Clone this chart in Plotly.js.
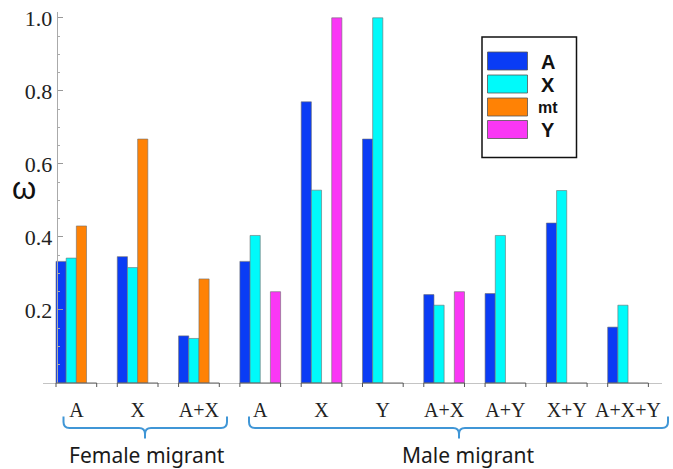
<!DOCTYPE html>
<html>
<head>
<meta charset="utf-8">
<script src="https://cdn.plot.ly/plotly-3.0.1.min.js"></script>
<style>html,body{margin:0;padding:0;background:#fff;}</style>
</head>
<body>
<div id="chart" style="width:673px;height:469px;"></div>
<script>
// ---- data ----
const categories = ['A', 'X', 'A+X', 'A', 'X', 'Y', 'A+X', 'A+Y', 'X+Y', 'A+X+Y'];
const seriesNames = ['A', 'X', 'mt', 'Y'];
const valA  = [0.333, 0.346, 0.129, 0.333, 0.770, 0.668, 0.242, 0.245, 0.438, 0.153];
const valX  = [0.342, 0.316, 0.122, 0.404, 0.528, 1.000, 0.213, 0.404, 0.527, 0.213];
const valMt = [0.430, 0.668, 0.285, null, null, null, null, null, null, null];
const valY  = [null, null, null, 0.250, 1.000, null, 0.250, null, null, null];
const yTickVals = [0.2, 0.4, 0.6, 0.8, 1.0];
const yTickText = ['0.2', '0.4', '0.6', '0.8', '1.0'];
const groupNames = ['Female migrant', 'Male migrant'];

// ---- styling ----
const colors = ['#0a3cf5', '#00fafa', '#ff8205', '#fa37f5'];
const W = 673, H = 469;
const mL = 43, mR = 11, mT = 12, mB = 86;
const plotW = W - mL - mR, plotH = H - mT - mB;
const px = x => (x - mL) / plotW;
const py = y => (H - mB - y) / plotH;
const halfGroup = 0.332;

const xs = categories.map((_, i) => i);
const seriesVals = [valA, valX, valMt, valY];
const traces = seriesVals.map((v, k) => ({
  type: 'bar', x: xs, y: v, name: seriesNames[k],
  marker: {color: colors[k], line: {color: '#6f6f6f', width: 0.6}},
  showlegend: false, hoverinfo: 'skip'
}));

const shapes = [];
const annotations = [];
// group underline + ticks on x axis
xs.forEach(i => {
  shapes.push({type: 'line', xref: 'x', yref: 'paper', x0: i - halfGroup, x1: i + halfGroup, y0: 0, y1: 0,
    line: {color: '#666', width: 1}});
  [i - halfGroup, i + halfGroup].forEach(xv => {
    shapes.push({type: 'line', xref: 'x', yref: 'paper', x0: xv, x1: xv, y0: 0, y1: -4 / plotH,
      line: {color: '#555', width: 1}});
  });
});

// legend box
shapes.push({type: 'rect', xref: 'paper', yref: 'paper', x0: px(482), x1: px(576.5), y0: py(37), y1: py(157.5),
  line: {color: '#111', width: 1.5}, fillcolor: 'rgba(0,0,0,0)'});
const legTop = [52, 75, 98, 120.5];
const legFont = [20, 20, 16, 20];
seriesNames.forEach((n, k) => {
  shapes.push({type: 'rect', xref: 'paper', yref: 'paper', x0: px(487.5), x1: px(527.5),
    y0: py(legTop[k]), y1: py(legTop[k] + 18), fillcolor: colors[k], line: {color: '#555', width: 0.8}});
  annotations.push({xref: 'paper', yref: 'paper', x: px(548), y: py(legTop[k] + 9.5), text: n, showarrow: false,
    xanchor: 'center', yanchor: 'middle', font: {family: 'Liberation Sans', size: legFont[k], color: '#111', weight: 'bold'}});
});

// braces
function brace(x0, x1, mid, top, hy, tip) {
  const r = 6;
  const P = (x, y) => px(x) + ',' + py(y);
  return 'M' + P(x0, top) + ' L' + P(x0, hy - r) + ' Q' + P(x0, hy) + ' ' + P(x0 + r, hy) +
    ' L' + P(mid - r, hy) + ' Q' + P(mid, hy) + ' ' + P(mid, hy + r) + ' L' + P(mid, tip) +
    ' L' + P(mid, hy + r) + ' Q' + P(mid, hy) + ' ' + P(mid + r, hy) +
    ' L' + P(x1 - r, hy) + ' Q' + P(x1, hy) + ' ' + P(x1, hy - r) + ' L' + P(x1, top);
}
const braceColor = '#4096d6';
shapes.push({type: 'path', xref: 'paper', yref: 'paper', path: brace(63.5, 227, 145, 416.5, 428, 438.5),
  line: {color: braceColor, width: 2}});
shapes.push({type: 'path', xref: 'paper', yref: 'paper', path: brace(249, 668, 459, 416.5, 428, 438.5),
  line: {color: braceColor, width: 2}});
const groupCenters = [147, 468];
groupNames.forEach((g, k) => {
  annotations.push({xref: 'paper', yref: 'paper', x: px(groupCenters[k]), y: py(455), text: g, showarrow: false,
    xanchor: 'center', yanchor: 'middle', font: {family: 'Noto Sans', size: 21, color: '#1a1a1a'}});
});

// omega axis label
annotations.push({xref: 'paper', yref: 'paper', x: px(24), y: py(188), text: 'ω', showarrow: false,
  xanchor: 'center', yanchor: 'middle', font: {family: 'Liberation Sans', size: 31, color: '#111'}});

const layout = {
  width: W, height: H,
  margin: {l: mL, r: mR, t: mT, b: mB, pad: 0},
  paper_bgcolor: '#fff', plot_bgcolor: '#fff',
  barmode: 'group', bargap: 0.336, bargroupgap: 0,
  showlegend: false,
  xaxis: {
    range: [-0.544, 9.554], tickvals: xs, ticktext: categories, ticks: '',
    showgrid: false, zeroline: false, showline: true, linecolor: '#c4c4c4', linewidth: 1,
    tickfont: {family: 'Liberation Serif', size: 20, color: '#222'}, ticklabelstandoff: 9,
    fixedrange: true
  },
  yaxis: {
    range: [0, (H - mB - mT) / 365.2], anchor: 'free', position: (56.7 - mL) / plotW,
    tickvals: yTickVals, ticktext: yTickText, ticks: 'inside', ticklen: 5, tickcolor: '#999', tickwidth: 1,
    minor: {dtick: 0.05, ticks: 'inside', ticklen: 2.5, tickcolor: '#aaa', tickwidth: 1},
    showgrid: false, zeroline: false, showline: true, linecolor: '#aaa', linewidth: 1,
    tickfont: {family: 'Liberation Serif', size: 22, color: '#222'},
    fixedrange: true
  },
  shapes: shapes,
  annotations: annotations
};

Plotly.newPlot('chart', traces, layout, {displayModeBar: false, staticPlot: true});
</script>
</body>
</html>
